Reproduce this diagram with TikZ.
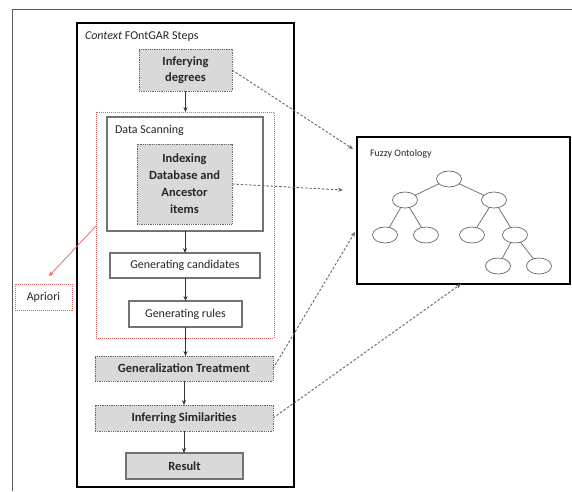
\documentclass[tikz,border=0pt]{standalone}
\usepackage{fontspec}
\setmainfont{Carlito}
\usetikzlibrary{arrows.meta,shapes.geometric}
\definecolor{lred}{RGB}{228,95,95}
\begin{document}
\begin{tikzpicture}[x=1pt,y=-1pt,
  every node/.style={inner sep=0pt, outer sep=0pt, font=\fontsize{12}{14}\selectfont, text=black!85},
  container/.style={draw=black, line width=2.4pt},
  graybox/.style={draw=black!60, fill=gray!30, dash pattern=on 1pt off 0.8pt, line width=0.9pt, align=center, font=\fontsize{12.5}{16}\selectfont\bfseries},
  plainbox/.style={draw=black!55, line width=1.2pt, fill=white},
  redbox/.style={draw=lred, dash pattern=on 1pt off 1pt, line width=0.8pt},
  flow/.style={-{Stealth[length=5pt,width=4pt]}, line width=0.9pt, draw=black!80},
  link/.style={-{Stealth[length=5pt,width=4pt]}, line width=0.9pt, draw=black!60, dash pattern=on 2.5pt off 1.8pt},
  onode/.style={draw=black!60, line width=0.7pt, ellipse, minimum width=25pt, minimum height=16pt},
  oedge/.style={draw=black!60, line width=0.7pt}
]
\useasboundingbox (0,0) rectangle (572,491);
% outer frame (top and left)
\draw[black!65, line width=0.8pt] (572,9) -- (12,9) -- (12,491);

% main container
\node[container, minimum width=217pt, minimum height=464pt] (main) at (185.5,255) {};
\node[anchor=base west] (title) at (85,39) {\textit{Context} FOntGAR Steps};

% red dotted region
\node[redbox, minimum width=178pt, minimum height=226pt] (red) at (185,225) {};
% data scanning
\node[plainbox, minimum width=156pt, minimum height=114pt] (ds) at (185,174) {};
\node[anchor=base west] (dstitle) at (115,133) {Data Scanning};

\node[graybox, minimum width=93pt, minimum height=42pt] (inf) at (185.5,70) {Inferying\\degrees};
\node[graybox, minimum width=95pt, minimum height=80pt, font=\fontsize{12.5}{17}\selectfont\bfseries] (idx) at (184.5,184) {Indexing\\Database and\\Ancestor\\items};

\node[plainbox, minimum width=150pt, minimum height=25pt] (gc) at (185,265.5) {Generating candidates};
\node[plainbox, minimum width=113pt, minimum height=26pt] (gr) at (185.5,314) {Generating rules};

\node[graybox, minimum width=178pt, minimum height=25pt] (gt) at (184,368.5) {Generalization Treatment};
\node[graybox, minimum width=178pt, minimum height=26pt] (is) at (184,418) {Inferring Similarities};
\node[graybox, solid, draw=black!55, line width=1.2pt, minimum width=117pt, minimum height=26pt] (res) at (184.5,466) {Result};

\node[redbox, minimum width=57pt, minimum height=26pt] (apr) at (43.5,297) {Apriori};

% fuzzy ontology
\node[container, minimum width=213pt, minimum height=147pt] (fo) at (463.5,210.5) {};
\node[anchor=base west, font=\fontsize{10}{12}\selectfont] (fotitle) at (370,156) {Fuzzy Ontology};

\node[onode] (n0) at (449,179) {};
\node[onode] (n1) at (405,200) {};
\node[onode] (n2) at (494,200) {};
\node[onode] (n3) at (385,235) {};
\node[onode] (n4) at (426,235) {};
\node[onode] (n5) at (472,235) {};
\node[onode] (n6) at (515,235) {};
\node[onode] (n7) at (498,266) {};
\node[onode] (n8) at (539,266) {};
\draw[oedge] (n0) -- (n1);
\draw[oedge] (n0) -- (n2);
\draw[oedge] (n1) -- (n3);
\draw[oedge] (n1) -- (n4);
\draw[oedge] (n2) -- (n5);
\draw[oedge] (n2) -- (n6);
\draw[oedge] (n6) -- (n7);
\draw[oedge] (n6) -- (n8);

% flow arrows
\draw[flow] (inf.south) -- (inf.south |- red.north);
\draw[flow] (ds.south -| gc.north) -- (gc.north);
\draw[flow] (gc.south -| gr.north) -- (gr.north);
\draw[flow] (gr.south) -- (gr.south |- gt.north);
\draw[flow] (gt.south) -- (is.north);
\draw[flow] (is.south) -- (is.south |- res.north);

% red arrow to Apriori
\coordinate (redstart) at (red.west |- 0,226);
\coordinate (aprend) at (49,276);
\draw[-{Stealth[length=5pt,width=4pt]}, lred, line width=0.7pt] (redstart) -- (aprend);

% dashed links to ontology
\coordinate (t1) at (353,149);
\coordinate (t2) at (343,190);
\coordinate (t3) at (355,232);
\coordinate (t4) at (461,284);
\draw[link] (inf.east) -- (t1);
\draw[link] (idx.east) -- (t2);
\draw[link] (gt.east) -- (t3);
\draw[link] (is.east) -- (t4);
\end{tikzpicture}
\end{document}
